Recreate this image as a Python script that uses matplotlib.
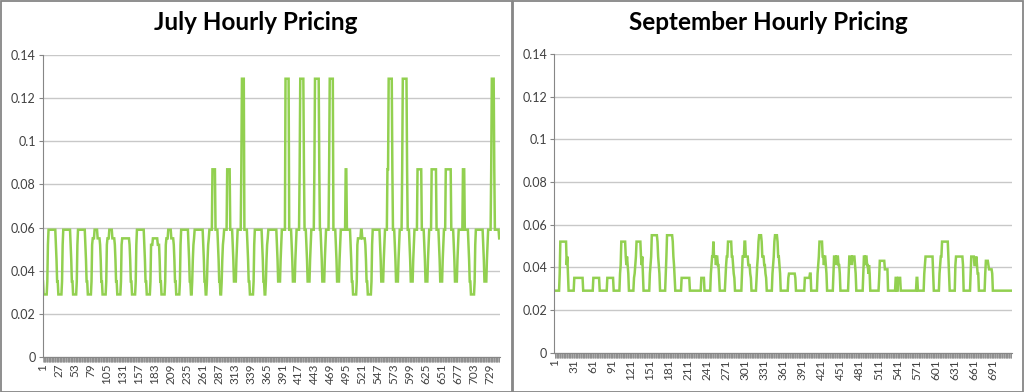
import numpy as np
import matplotlib
matplotlib.use("Agg")
import matplotlib.pyplot as plt
from matplotlib.patches import Rectangle
from matplotlib.ticker import FormatStrFormatter

plt.rcParams['font.family'] = ['Lato', 'DejaVu Sans']

# pieces of a July tariff day, (price, hours)
WIDE = [(0.035, 1), (0.029, 6), (0.035, 1), (0.052, 1)]
NARROW = [(0.035, 1), (0.029, 2), (0.035, 1), (0.045, 1), (0.052, 1), (0.055, 1)]
SHALLOW = [(0.035, 3), (0.045, 1), (0.052, 1)]
DOWN = [(0.052, 1), (0.045, 1), (0.035, 1)]

july_days = [
    WIDE + [(0.059, 12)] + DOWN,                                              # 1
    WIDE + [(0.059, 12)] + DOWN,
    WIDE + [(0.059, 12)] + DOWN,
    WIDE + [(0.055, 3), (0.059, 5), (0.055, 4)] + DOWN,
    WIDE + [(0.055, 3), (0.059, 5), (0.055, 4)] + DOWN,                       # 5
    WIDE + [(0.055, 12)] + DOWN,
    WIDE + [(0.059, 12)] + DOWN,
    WIDE + [(0.052, 2), (0.055, 8), (0.052, 2)] + DOWN,
    WIDE + [(0.055, 3), (0.059, 5), (0.055, 4)] + DOWN,
    WIDE + [(0.059, 12)] + DOWN,                                              # 10
    NARROW + [(0.059, 14)] + DOWN,
    NARROW + [(0.059, 5), (0.087, 5), (0.059, 4)] + DOWN,
    NARROW + [(0.059, 5), (0.087, 5), (0.059, 4)] + DOWN,
    SHALLOW + [(0.059, 6), (0.087, 1), (0.129, 4), (0.059, 5)] + DOWN,
    WIDE + [(0.059, 12)] + DOWN,                                              # 15
    NARROW + [(0.059, 14)] + DOWN,
    SHALLOW + [(0.059, 6), (0.129, 6), (0.059, 4)] + DOWN,
    SHALLOW + [(0.059, 5), (0.087, 1), (0.129, 6), (0.087, 1), (0.059, 3)] + DOWN,
    SHALLOW + [(0.059, 5), (0.087, 1), (0.129, 7), (0.087, 1), (0.059, 2)] + DOWN,
    SHALLOW + [(0.059, 5), (0.087, 1), (0.129, 6), (0.059, 4)] + DOWN,        # 20
    SHALLOW + [(0.059, 8), (0.087, 2), (0.059, 6)] + DOWN,
    WIDE + [(0.055, 5), (0.059, 2), (0.055, 5)] + DOWN,
    WIDE + [(0.059, 12)] + DOWN,
    SHALLOW + [(0.059, 4), (0.087, 2), (0.129, 6), (0.087, 1), (0.059, 3)] + DOWN,
    SHALLOW + [(0.059, 4), (0.087, 1), (0.129, 7), (0.087, 1), (0.059, 3)] + DOWN,  # 25
    SHALLOW + [(0.059, 5), (0.087, 7), (0.059, 4)] + DOWN,
    SHALLOW + [(0.059, 4), (0.087, 8), (0.059, 4)] + DOWN,
    SHALLOW + [(0.059, 3), (0.087, 9), (0.059, 4)] + DOWN,
    SHALLOW + [(0.059, 7), (0.087, 3), (0.059, 6)] + DOWN,
    WIDE + [(0.059, 12)] + DOWN,                                              # 30
    SHALLOW + [(0.059, 5), (0.087, 1), (0.129, 4), (0.087, 1), (0.059, 5)] + [(0.059, 2), (0.055, 1)],
]

sep_days = [
    [(0.029, 8), (0.037, 1), (0.052, 10), (0.041, 1), (0.045, 1), (0.037, 1), (0.029, 2)],   # 1
    [(0.029, 7), (0.035, 14), (0.029, 3)],
    [(0.029, 13), (0.035, 10), (0.029, 1)],
    [(0.029, 11), (0.035, 10), (0.029, 3)],
    [(0.029, 7), (0.037, 1), (0.041, 1), (0.052, 7), (0.045, 1), (0.041, 1), (0.045, 1), (0.041, 1), (0.037, 1), (0.029, 3)],
    [(0.029, 5), (0.035, 1), (0.037, 1), (0.041, 1), (0.045, 1), (0.052, 7), (0.045, 1), (0.041, 1), (0.045, 1), (0.037, 1), (0.029, 4)],
    [(0.029, 6), (0.037, 1), (0.041, 1), (0.045, 1), (0.055, 9), (0.052, 1), (0.045, 1), (0.041, 1), (0.037, 1), (0.029, 2)],
    [(0.029, 7), (0.037, 1), (0.045, 1), (0.055, 9), (0.052, 1), (0.045, 1), (0.041, 1), (0.035, 1), (0.029, 2)],
    [(0.029, 8), (0.035, 13), (0.029, 3)],
    [(0.029, 15), (0.035, 5), (0.029, 4)],                                                      # 10
    [(0.029, 6), (0.037, 1), (0.041, 1), (0.045, 2), (0.052, 1), (0.045, 3), (0.041, 1), (0.045, 2), (0.041, 2), (0.035, 1), (0.029, 4)],
    [(0.029, 5), (0.035, 1), (0.041, 1), (0.045, 2), (0.052, 6), (0.045, 2), (0.041, 1), (0.037, 1), (0.035, 1), (0.029, 4)],
    [(0.029, 7), (0.037, 1), (0.045, 3), (0.052, 2), (0.045, 4), (0.041, 3), (0.037, 1), (0.035, 1), (0.029, 2)],
    [(0.029, 6), (0.035, 1), (0.041, 1), (0.045, 1), (0.052, 1), (0.055, 4), (0.052, 1), (0.045, 3), (0.041, 2), (0.037, 1), (0.035, 1), (0.029, 2)],
    [(0.029, 7), (0.037, 1), (0.041, 1), (0.045, 1), (0.052, 1), (0.055, 4), (0.052, 1), (0.045, 2), (0.041, 1), (0.037, 1), (0.029, 4)],
    [(0.029, 8), (0.035, 1), (0.037, 10), (0.035, 1), (0.029, 4)],
    [(0.029, 10), (0.035, 8), (0.037, 2), (0.029, 4)],
    [(0.029, 6), (0.037, 1), (0.041, 1), (0.045, 1), (0.052, 5), (0.045, 2), (0.041, 1), (0.045, 2), (0.041, 1), (0.037, 1), (0.029, 3)],
    [(0.029, 7), (0.037, 1), (0.045, 3), (0.041, 1), (0.045, 3), (0.041, 2), (0.037, 1), (0.029, 6)],
    [(0.029, 7), (0.037, 1), (0.045, 4), (0.041, 1), (0.045, 4), (0.041, 1), (0.037, 1), (0.029, 5)],   # 20
    [(0.029, 6), (0.037, 1), (0.045, 2), (0.041, 1), (0.045, 2), (0.041, 2), (0.037, 1), (0.041, 1), (0.037, 1), (0.029, 7)],
    [(0.029, 7), (0.035, 1), (0.043, 8), (0.039, 5), (0.029, 3)],
    [(0.029, 9), (0.035, 2), (0.029, 2), (0.035, 4), (0.029, 7)],
    [(0.029, 18), (0.035, 2), (0.029, 4)],
    [(0.029, 6), (0.037, 1), (0.041, 1), (0.045, 12), (0.037, 1), (0.029, 3)],
    [(0.029, 6), (0.037, 1), (0.041, 1), (0.045, 2), (0.052, 10), (0.045, 1), (0.037, 1), (0.029, 2)],
    [(0.029, 7), (0.041, 1), (0.045, 11), (0.041, 1), (0.029, 4)],
    [(0.029, 7), (0.037, 1), (0.045, 5), (0.041, 3), (0.045, 1), (0.041, 1), (0.037, 2), (0.029, 4)],
    [(0.029, 6), (0.037, 1), (0.043, 4), (0.041, 1), (0.039, 5), (0.037, 1), (0.029, 6)],
    [(0.029, 24)],                                                                              # 30
]

y_ticks = [0, 0.02, 0.04, 0.06, 0.08, 0.1, 0.12, 0.14]


def hourly(days):
    runs = [r for d in days for r in d]
    return np.repeat([p for p, n in runs], [n for p, n in runs])


july = hourly(july_days)
sep = hourly(sep_days)
assert len(july) == 744 and len(sep) == 720

GREEN = '#92D050'
GREY = '#868686'

fig = plt.figure(figsize=(10.24, 3.92), dpi=100)

# chart borders
fig.add_artist(Rectangle((0.5 / 1024, 0.5 / 392), 511 / 1024, 391 / 392, transform=fig.transFigure,
                         fill=False, ec=GREY, lw=1.3))
fig.add_artist(Rectangle((513 / 1024, 0.5 / 392), 510 / 1024, 391 / 392, transform=fig.transFigure,
                         fill=False, ec=GREY, lw=1.3))


def draw(rect, data, step, title, title_x):
    ax = fig.add_axes(rect)
    x = np.arange(1, len(data) + 1)
    ax.plot(x, data, color=GREEN, lw=1.8, solid_joinstyle='miter')
    ax.set_xlim(0.5, len(data) + 0.5)
    ax.set_ylim(0, 0.14)
    ax.set_yticks(y_ticks)
    ax.yaxis.set_major_formatter(FormatStrFormatter('%g'))
    ax.grid(axis='y', color='#C8C8C8', lw=1)
    ax.set_axisbelow(True)
    ax.set_xticks(np.arange(1, len(data) + 1, step))
    ax.set_xticks(x, minor=True)
    ax.tick_params(axis='x', which='both', length=3.3, width=0.5, color=GREY, direction='out',
                   labelrotation=90, labelsize=8.5, labelcolor='#404040', pad=1.5)
    ax.tick_params(axis='y', length=3, width=0.8, color=GREY, labelsize=9, labelcolor='#404040', pad=2)
    for s in ['top', 'right']:
        ax.spines[s].set_visible(False)
    for s in ['left', 'bottom']:
        ax.spines[s].set_color(GREY)
        ax.spines[s].set_linewidth(0.8)
    fig.text(title_x, 1 - 22 / 392, title, ha='center', va='center',
             fontsize=17.5, fontweight='bold', color='black')
    return ax


draw([42.7 / 1024, 35 / 392, 456.8 / 1024, 302 / 392], july, 26, 'July Hourly Pricing', 256 / 1024)
draw([554.3 / 1024, 39.5 / 392, 457.3 / 1024, 298.5 / 392], sep, 30, 'September Hourly Pricing', 768 / 1024)

fig.savefig('out.png', dpi=100)
